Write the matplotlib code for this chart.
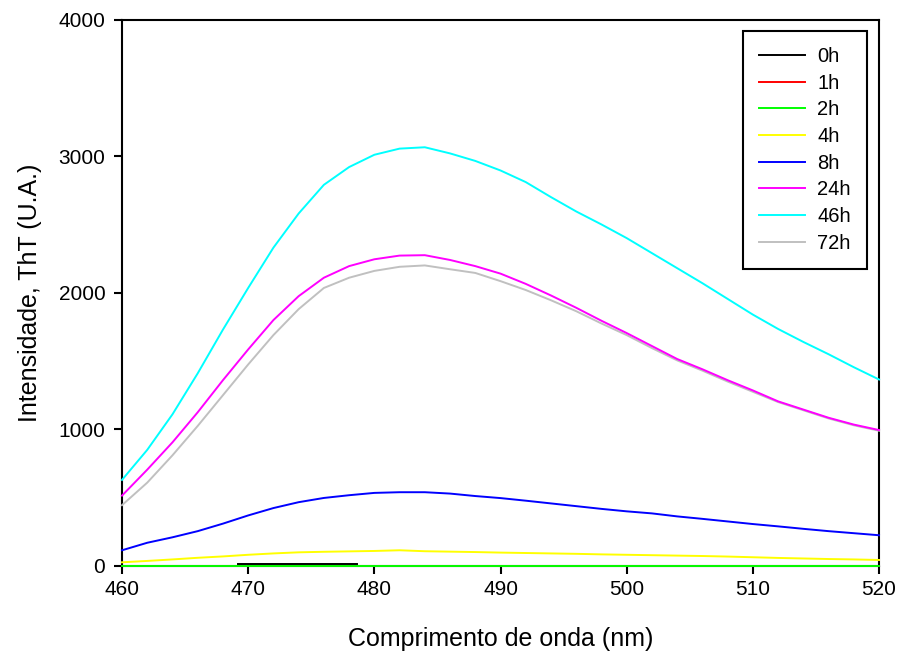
import matplotlib.pyplot as plt

plt.rcParams['font.family'] = ['Liberation Sans', 'DejaVu Sans']

# wavelength grid (nm), 2 nm steps
wl = [460, 462, 464, 466, 468, 470, 472, 474, 476, 478, 480,
      482, 484, 486, 488, 490, 492, 494, 496, 498, 500,
      502, 504, 506, 508, 510, 512, 514, 516, 518, 520]

i_4h = [27, 37, 48, 60, 70, 82, 92, 100, 104, 107, 110,
        115, 108, 105, 102, 98, 95, 92, 89, 85, 82,
        79, 76, 73, 69, 64, 59, 55, 51, 48, 44]
i_8h = [115, 170, 210, 255, 310, 370, 424, 467, 498, 518, 535,
        540, 540, 530, 512, 497, 478, 458, 438, 418, 400,
        385, 363, 345, 326, 307, 290, 272, 255, 240, 225]
i_24h = [515, 705, 905, 1125, 1360, 1585, 1800, 1975, 2110, 2195, 2245,
         2272, 2275, 2240, 2195, 2140, 2065, 1980, 1890, 1795, 1705,
         1610, 1515, 1440, 1360, 1285, 1205, 1145, 1085, 1035, 995]
i_46h = [630, 850, 1110, 1410, 1730, 2035, 2330, 2580, 2790, 2920, 3010,
         3055, 3065, 3020, 2965, 2895, 2810, 2700, 2595, 2500, 2400,
         2290, 2180, 2070, 1955, 1840, 1735, 1640, 1550, 1455, 1365]
i_72h = [445, 610, 810, 1025, 1250, 1475, 1690, 1880, 2035, 2110, 2160,
         2190, 2200, 2172, 2145, 2085, 2020, 1945, 1865, 1775, 1690,
         1595, 1505, 1430, 1350, 1275, 1200, 1140, 1080, 1030, 990]

# near-zero traces
wl_flat = [460, 480, 500, 520]
i_1h = [1, 1, 1, 1]
i_2h = [3, 3, 3, 3]
wl_0h = [469.2, 478.6]
i_0h = [14, 14]

labels = ['0h', '1h', '2h', '4h', '8h', '24h', '46h', '72h']
colors = ['black', 'red', '#00ff00', '#ffff00', '#0000ff', '#ff00ff', '#00ffff', '#c0c0c0']

fig = plt.figure(figsize=(8.99, 6.55), dpi=100)
ax = fig.add_axes([0.1357, 0.1359, 0.8421, 0.8343])

lw = 1.4
series = [(wl_0h, i_0h, 5), (wl_flat, i_1h, 3), (wl_flat, i_2h, 4),
          (wl, i_4h, 5), (wl, i_8h, 5), (wl, i_24h, 6), (wl, i_46h, 6), (wl, i_72h, 5)]
for (x, y, z), lab, c in zip(series, labels, colors):
    ax.plot(x, y, color=c, lw=lw, label=lab, zorder=z, clip_on=False)

ax.set_xlim(460, 520)
ax.set_ylim(0, 4000)
ax.set_xticks(range(460, 521, 10))
ax.set_yticks(range(0, 4001, 1000))

for s in ax.spines.values():
    s.set_linewidth(1.5)
ax.tick_params(direction='out', length=6, width=1.5, labelsize=15)
ax.tick_params(axis='x', pad=4)
ax.tick_params(axis='y', pad=6)

ax.set_xlabel('Comprimento de onda (nm)', fontsize=18, labelpad=20)
ax.set_ylabel('Intensidade, ThT (U.A.)', fontsize=18, labelpad=12)

leg = ax.legend(loc='upper right', bbox_to_anchor=(0.984, 0.979), borderaxespad=0,
                fontsize=14.5, handlelength=2.3, handletextpad=0.6, labelspacing=0.38,
                borderpad=0.8, fancybox=False, framealpha=1, edgecolor='black')
leg.get_frame().set_linewidth(1.5)

fig.savefig('out.png', dpi=100)
